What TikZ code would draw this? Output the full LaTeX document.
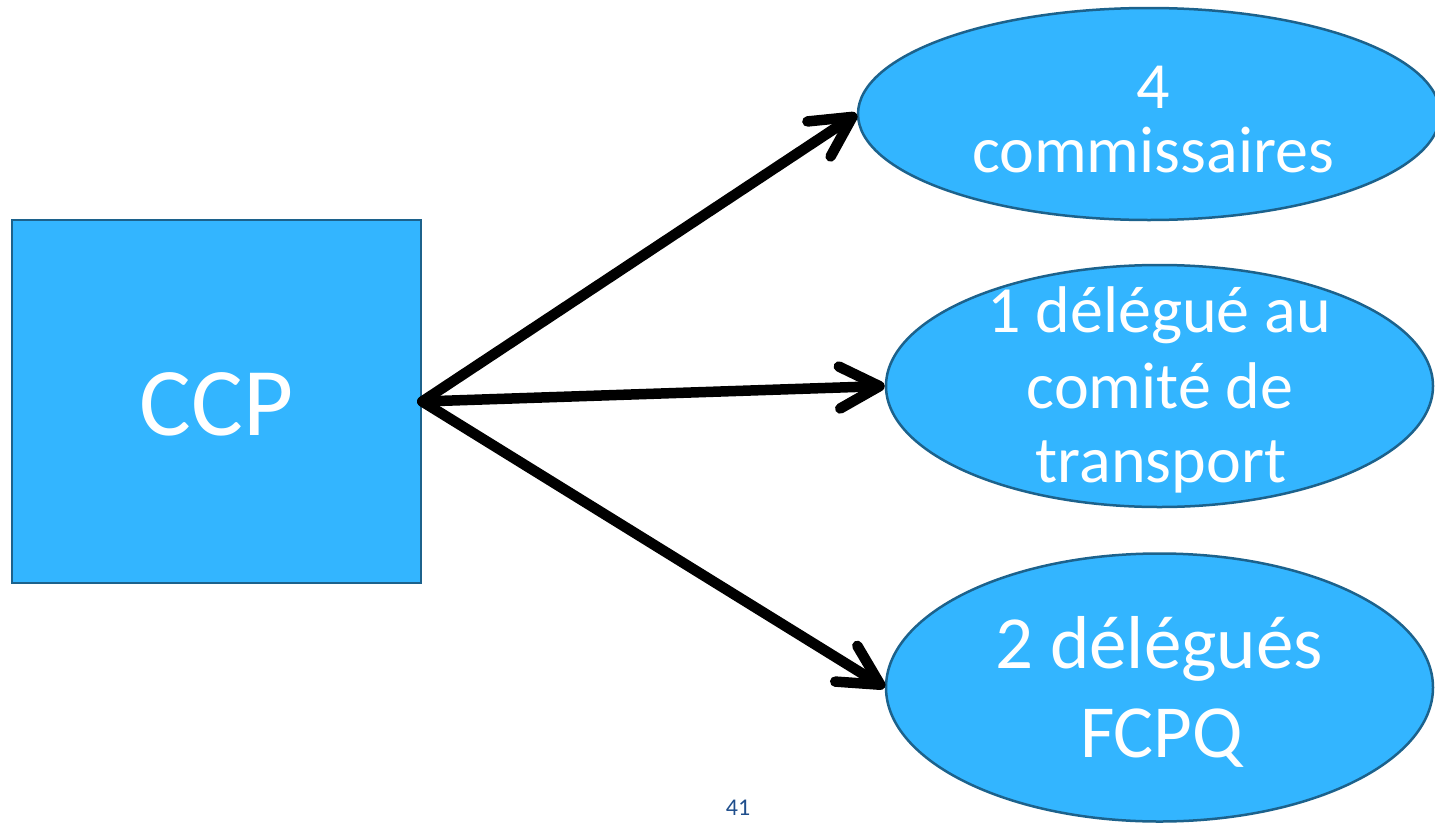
\documentclass[tikz,border=0pt]{standalone}
\usepackage{fontspec}
\setmainfont{Carlito}
\usetikzlibrary{shapes.geometric,arrows.meta}
\definecolor{fillblue}{RGB}{51,181,255}
\definecolor{edgeblue}{RGB}{28,98,140}
\definecolor{numblue}{RGB}{31,78,140}
\tikzset{
  box/.style={draw=edgeblue, fill=fillblue, line width=2.5pt, inner sep=0pt, rectangle},
  oval/.style={draw=edgeblue, fill=fillblue, line width=2.5pt, inner sep=0pt, ellipse},
  txt/.style={text=white, inner sep=0pt, anchor=base},
  link/.style={line width=10.5pt, line cap=round, black,
    -{Straight Barb[length=40pt, width=42pt, round]}},
}
\begin{document}
\begin{tikzpicture}[x=1pt, y=-1pt]
\useasboundingbox (0,0) rectangle (1435,822);
% shapes
\node[box, minimum width=409pt, minimum height=363pt] (ccp) at (216.5,401.5) {};
\node[oval, minimum width=582pt, minimum height=212pt] (e1) at (1149,114) {};
\node[oval, minimum width=547pt, minimum height=242pt] (e2) at (1159.5,386) {};
\node[oval, minimum width=547pt, minimum height=268pt] (e3) at (1159.5,687.5) {};
% texts
\node[txt, font=\fontsize{97}{97}\selectfont] (tccp) at (216.7,435) {CCP};
\node[txt, font=\fontsize{66}{66}\selectfont] (t1a) at (1153,108) {4};
\node[txt, font=\fontsize{66}{66}\selectfont] (t1b) at (1153,172) {commissaires};
\node[txt, font=\fontsize{66}{66}\selectfont] (t2a) at (1159,332) {1 délégué au};
\node[txt, font=\fontsize{66}{66}\selectfont] (t2b) at (1160,408) {comité de};
\node[txt, font=\fontsize{66}{66}\selectfont] (t2c) at (1161,482) {transport};
\node[txt, font=\fontsize{75}{75}\selectfont] (t3a) at (1159,668) {2 délégués};
\node[txt, font=\fontsize{75}{75}\selectfont] (t3b) at (1161.5,757) {FCPQ};
\node[inner sep=0pt, anchor=base, text=numblue, font=\fontsize{24}{24}\selectfont] (page) at (738,815) {41};
% connectors
\draw[link] (ccp.east) -- (e1.west);
\draw[link] (ccp.east) -- (e2.west);
\draw[link] (ccp.east) -- (e3.west);
\end{tikzpicture}
\end{document}
